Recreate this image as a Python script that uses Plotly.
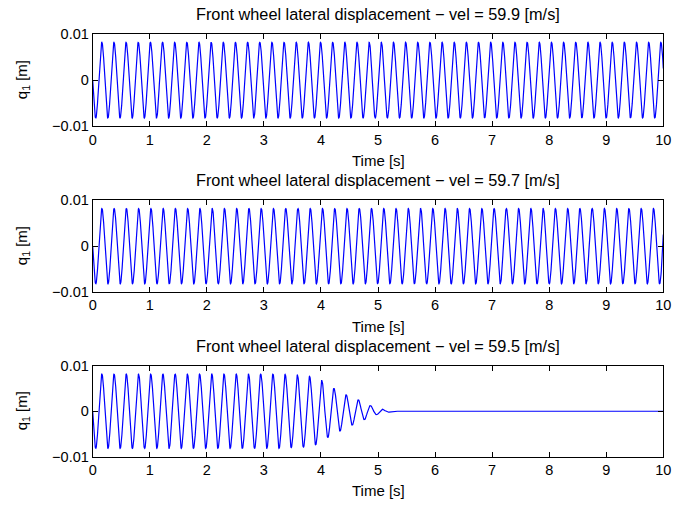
import numpy as np
import plotly.graph_objects as go

# Simulation time base [s]
t_end = 10.0
dt = 0.004

# One panel per forward speed
velocities = ["59.9", "59.7", "59.5"]
# Oscillation frequency of the front-wheel lateral mode [Hz]
frequencies = [4.695, 4.655, 4.670]

# Amplitude envelope knots [s] / [m] for each run
env_t = [
    [0.0, 10.0],
    [0.0, 10.0],
    [0.0, 3.30, 3.50, 3.62, 3.72, 3.84, 3.92, 4.03, 4.12, 4.22, 4.32, 4.41,
     4.52, 4.66, 4.79, 4.88, 4.96, 5.04, 5.12, 5.20, 5.28, 10.0],
]
env_a = [
    [0.0082, 0.0082],
    [0.0082, 0.0082],
    [0.0082, 0.0082, 0.0080, 0.0080, 0.0079, 0.0076, 0.0074, 0.0067, 0.0058,
     0.0051, 0.0045, 0.0038, 0.0032, 0.0025, 0.0017, 0.0012, 0.0008, 0.0006,
     0.0003, 0.0002, 0.0, 0.0],
]

x_ticks = list(range(0, 11))
y_ticks = [-0.01, 0.0, 0.01]
y_tick_text = ["\u22120.01", "0", "0.01"]

W, H = 673, 507
x_left, x_right = 92.7, 663.3
# top/bottom pixel rows of each axes box
boxes = [(34.0, 126.3), (200.3, 292.0), (366.0, 456.5)]

FONT = "Liberation Sans, Arial, sans-serif"
LINE_BLUE = "#0000ff"

fig = go.Figure()
t = np.arange(0.0, t_end + dt / 2, dt)

annotations = []
for i, (vel, f, et, ea, (top, bot)) in enumerate(
        zip(velocities, frequencies, env_t, env_a, boxes)):
    amp = np.interp(t, et, ea)
    q1 = -amp * np.sin(2 * np.pi * f * t)
    n = "" if i == 0 else str(i + 1)
    fig.add_trace(go.Scatter(
        x=t, y=q1, mode="lines",
        line=dict(color=LINE_BLUE, width=1.2),
        xaxis="x" + n, yaxis="y" + n, showlegend=False, hoverinfo="skip"))

    dom_x = [x_left / W, x_right / W]
    dom_y = [(H - bot) / H, (H - top) / H]
    common = dict(
        showgrid=False, zeroline=False, showline=True, linecolor="black",
        linewidth=1, mirror="ticks", ticks="inside", ticklen=5,
        tickcolor="black", tickwidth=1, automargin=False,
        tickfont=dict(family=FONT, size=14.5, color="black"),
    )
    fig.update_layout(**{
        "xaxis" + n: dict(domain=dom_x, anchor="y" + n, range=[0, t_end],
                          tickvals=x_ticks, ticktext=[str(v) for v in x_ticks],
                          **common),
        "yaxis" + n: dict(domain=dom_y, anchor="x" + n, range=[-0.01, 0.01],
                          tickvals=y_ticks, ticktext=y_tick_text, **common),
    })

    xc = (x_left + x_right) / 2 / W
    annotations.append(dict(
        text=f"Front wheel lateral displacement \u2212 vel = {vel} [m/s]",
        x=xc, y=(H - (top - 20)) / H, xref="paper", yref="paper",
        xanchor="center", yanchor="middle", showarrow=False,
        font=dict(family=FONT, size=16.3, color="black")))
    annotations.append(dict(
        text="Time [s]",
        x=xc, y=(H - (bot + 34)) / H, xref="paper", yref="paper",
        xanchor="center", yanchor="middle", showarrow=False,
        font=dict(family=FONT, size=15, color="black")))
    annotations.append(dict(
        text="q<sub>1</sub> [m]",
        x=22 / W, y=(H - (top + bot) / 2) / H, xref="paper", yref="paper",
        xanchor="center", yanchor="middle", textangle=-90, showarrow=False,
        font=dict(family=FONT, size=15, color="black")))

fig.update_layout(
    width=W, height=H,
    margin=dict(l=0, r=0, t=0, b=0, autoexpand=False),
    paper_bgcolor="white", plot_bgcolor="white",
    annotations=annotations,
)

fig.write_html("out.html")
